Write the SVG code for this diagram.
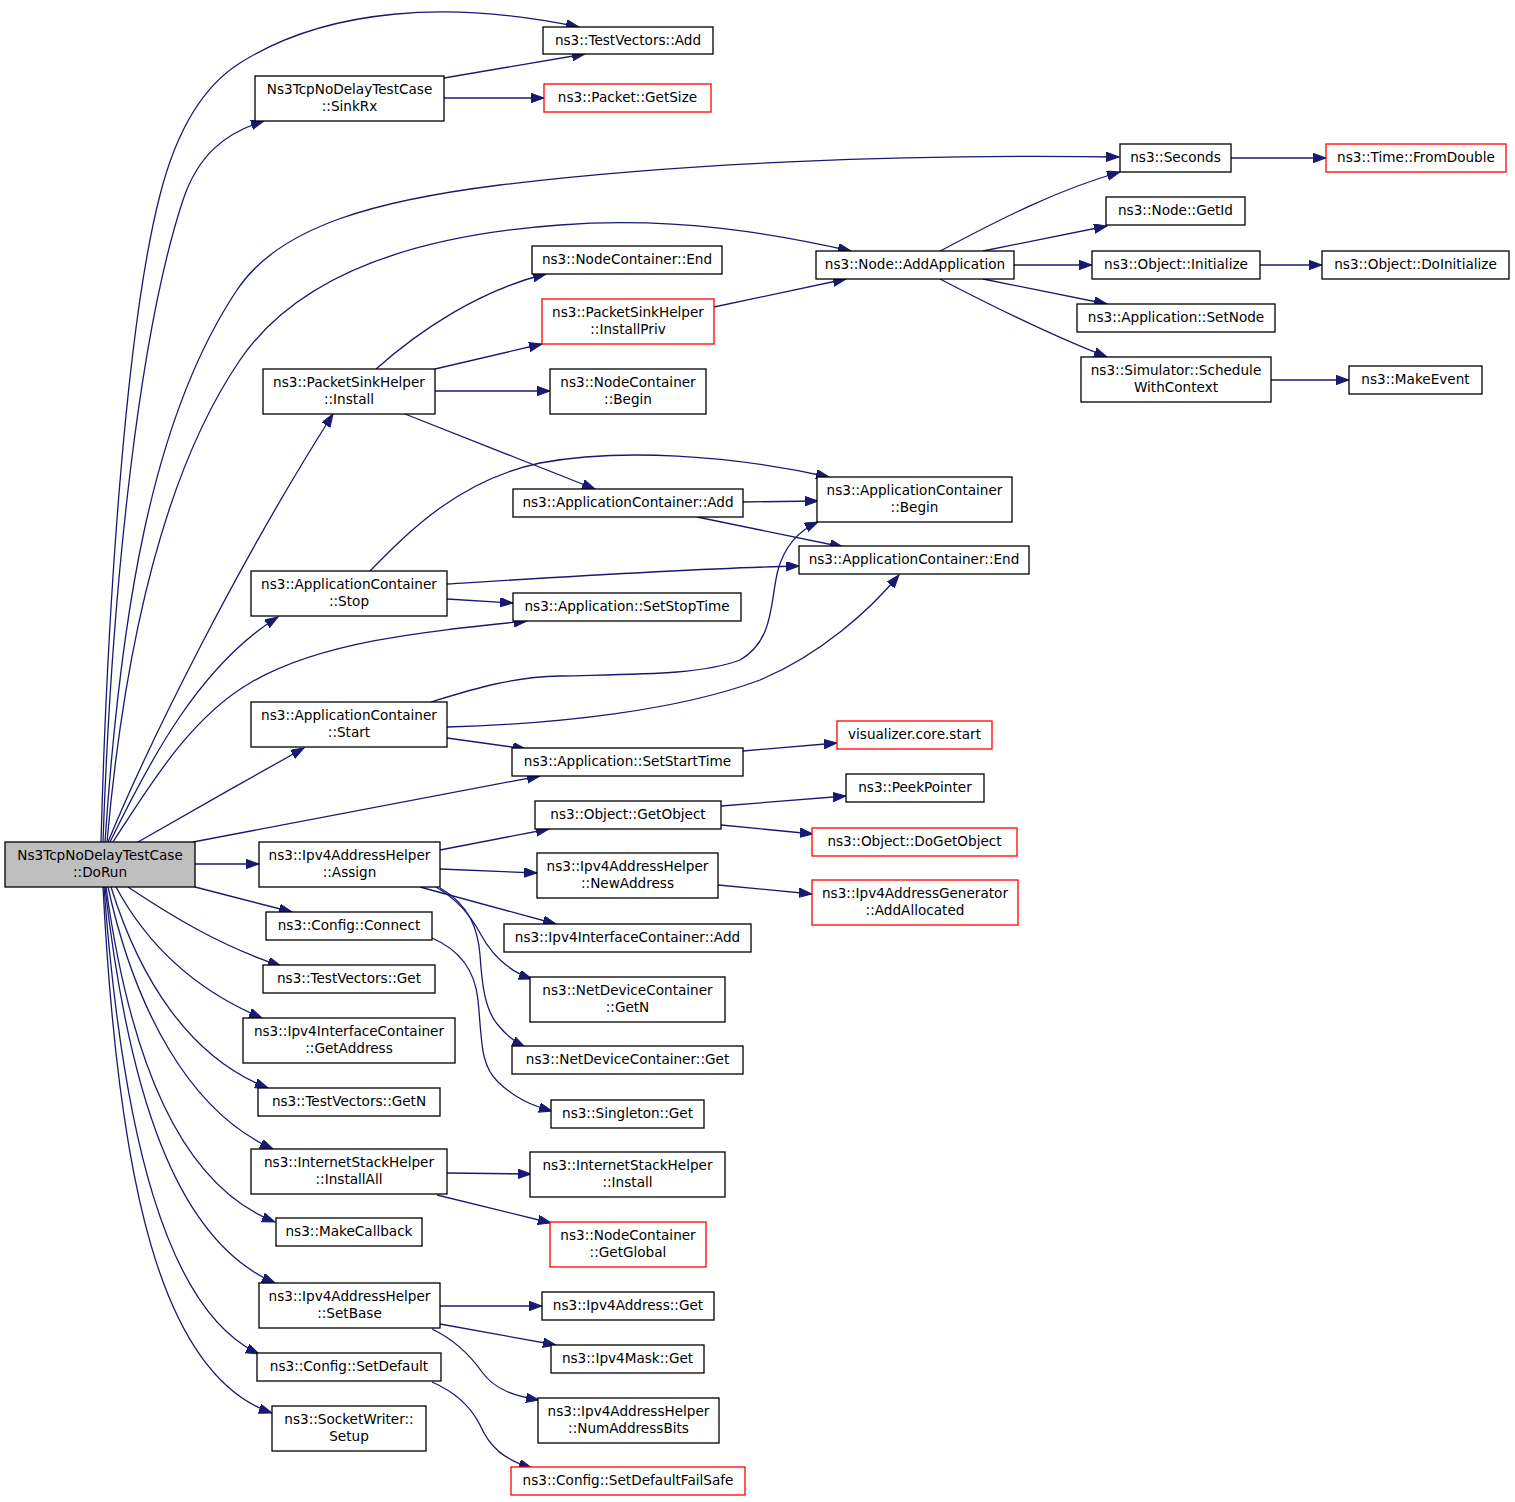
<svg xmlns="http://www.w3.org/2000/svg" width="1515" height="1502" viewBox="0 0 1515 1502">
<style>
.n rect{fill:#ffffff;stroke:#000000;stroke-width:1.3}
.r rect{stroke:#ff0000}
.g rect{fill:#bfbfbf}
text{font-family:"DejaVu Sans","Liberation Sans",sans-serif;font-size:13.6px;fill:#000000;text-anchor:middle}
#edges path{fill:none;stroke:#191970;stroke-width:1.3;marker-end:url(#ah)}
</style>
<defs>
<marker id="ah" markerUnits="userSpaceOnUse" markerWidth="14" markerHeight="10" refX="13" refY="4.7" orient="auto">
<path d="M0,0 L13,4.7 L0,9.4 z" fill="#191970" stroke="#191970" stroke-width="1"/>
</marker>
</defs>
<rect width="1515" height="1502" fill="#ffffff"/>
<g id="edges">
<path d="M101,842 C107,620 125,330 160,195 C177,128 205,85 240,63 C327,8 450,0 579,27"/>
<path d="M103,842 C112,580 140,330 183,200 C198,155 225,133 264,121"/>
<path d="M105,842 C120,620 150,420 237,290 C280,225 380,200 500,185 C680,163 900,154 1119,157"/>
<path d="M107,842 C125,640 165,470 240,360 C300,272 420,235 560,225 C679,216 780,235 851,251"/>
<path d="M108,842 C150,740 240,560 333,414"/>
<path d="M110,842 C150,760 200,665 278,617"/>
<path d="M113,842 C150,785 190,718 250,683 C320,642 420,632 527,621"/>
<path d="M138,842 C190,812 250,778 304,748"/>
<path d="M193,842 L540,776"/>
<path d="M195,864 L259,864"/>
<path d="M195,887 L292,912"/>
<path d="M128,887 C170,915 220,946 281,966"/>
<path d="M116,887 C150,950 200,992 262,1018"/>
<path d="M111,887 C140,980 190,1058 268,1088"/>
<path d="M108,887 C135,1010 190,1112 273,1149"/>
<path d="M106,887 C130,1060 180,1185 275,1222"/>
<path d="M105,887 C128,1090 175,1240 275,1283"/>
<path d="M104,887 C122,1130 165,1310 259,1354"/>
<path d="M103,887 C118,1180 160,1375 272,1413"/>
<path d="M444,78 L585,54"/>
<path d="M444,98 L544,98"/>
<path d="M1231,158 L1326,158"/>
<path d="M940,251 C990,225 1050,192 1120,172"/>
<path d="M983,251 L1107,226"/>
<path d="M1014,265 L1092,265"/>
<path d="M983,279 L1107,304"/>
<path d="M940,279 C990,305 1050,335 1107,357"/>
<path d="M1260,265 L1322,265"/>
<path d="M1271,380 L1349,380"/>
<path d="M376,369 C420,330 480,290 546,274"/>
<path d="M435,369 L542,344"/>
<path d="M435,391 L550,391"/>
<path d="M405,414 L595,489"/>
<path d="M714,307 L846,279"/>
<path d="M743,502 L818,501"/>
<path d="M697,517 L843,547"/>
<path d="M370,571 C410,530 460,480 540,463 C620,448 730,455 829,477"/>
<path d="M447,584 C560,577 700,568 799,566"/>
<path d="M447,599 L513,603"/>
<path d="M431,702 C470,690 510,677 560,676 C640,674 700,675 740,660 C775,640 770,600 778,570 C785,545 800,530 818,522"/>
<path d="M447,727 C560,724 680,710 760,680 C820,655 870,610 899,575"/>
<path d="M447,738 L526,749"/>
<path d="M743,751 L837,743"/>
<path d="M440,850 L549,829"/>
<path d="M440,869 L537,873"/>
<path d="M420,887 L556,924"/>
<path d="M436,887 C458,900 470,915 480,933 C490,952 505,970 532,979"/>
<path d="M440,888 C470,905 478,930 480,955 C482,985 485,1010 498,1025 C506,1035 515,1042 525,1047"/>
<path d="M432,938 C460,950 475,970 478,1000 C482,1040 480,1065 498,1082 C515,1098 530,1105 552,1111"/>
<path d="M721,806 L846,796"/>
<path d="M721,825 L813,834"/>
<path d="M718,885 L812,894"/>
<path d="M447,1173 L531,1174"/>
<path d="M437,1195 L551,1223"/>
<path d="M440,1306 L542,1306"/>
<path d="M440,1324 L556,1345"/>
<path d="M432,1329 C455,1340 470,1355 482,1372 C495,1390 515,1396 539,1400"/>
<path d="M432,1382 C455,1392 470,1405 480,1425 C490,1448 505,1460 532,1468"/>
</g>
<g id="n_DoRun" class="n g"><rect x="5" y="842" width="190" height="45"/><text x="100" y="860">Ns3TcpNoDelayTestCase</text><text x="100" y="877">::DoRun</text></g>
<g id="n_TVAdd" class="n"><rect x="543" y="27" width="170" height="27"/><text x="628" y="45">ns3::TestVectors::Add</text></g>
<g id="n_SinkRx" class="n"><rect x="255" y="76" width="189" height="45"/><text x="349.5" y="94">Ns3TcpNoDelayTestCase</text><text x="349.5" y="111">::SinkRx</text></g>
<g id="n_GetSize" class="n r"><rect x="544" y="84" width="167" height="28"/><text x="627.5" y="102">ns3::Packet::GetSize</text></g>
<g id="n_Seconds" class="n"><rect x="1120" y="144" width="111" height="28"/><text x="1175.5" y="162">ns3::Seconds</text></g>
<g id="n_FromDouble" class="n r"><rect x="1326" y="144" width="180" height="28"/><text x="1416" y="162">ns3::Time::FromDouble</text></g>
<g id="n_GetId" class="n"><rect x="1106" y="197" width="139" height="28"/><text x="1175.5" y="215">ns3::Node::GetId</text></g>
<g id="n_AddApplication" class="n"><rect x="816" y="251" width="198" height="28"/><text x="915" y="269">ns3::Node::AddApplication</text></g>
<g id="n_Initialize" class="n"><rect x="1092" y="251" width="168" height="28"/><text x="1176" y="269">ns3::Object::Initialize</text></g>
<g id="n_DoInitialize" class="n"><rect x="1322" y="251" width="187" height="28"/><text x="1415.5" y="269">ns3::Object::DoInitialize</text></g>
<g id="n_NCEnd" class="n"><rect x="532" y="246" width="190" height="28"/><text x="627" y="264">ns3::NodeContainer::End</text></g>
<g id="n_InstallPriv" class="n r"><rect x="542" y="299" width="172" height="45"/><text x="628" y="317">ns3::PacketSinkHelper</text><text x="628" y="334">::InstallPriv</text></g>
<g id="n_SetNode" class="n"><rect x="1077" y="304" width="198" height="28"/><text x="1176" y="322">ns3::Application::SetNode</text></g>
<g id="n_Schedule" class="n"><rect x="1081" y="357" width="190" height="45"/><text x="1176" y="375">ns3::Simulator::Schedule</text><text x="1176" y="392">WithContext</text></g>
<g id="n_MakeEvent" class="n"><rect x="1349" y="366" width="133" height="28"/><text x="1415.5" y="384">ns3::MakeEvent</text></g>
<g id="n_Install" class="n"><rect x="263" y="369" width="172" height="45"/><text x="349" y="387">ns3::PacketSinkHelper</text><text x="349" y="404">::Install</text></g>
<g id="n_NCBegin" class="n"><rect x="550" y="369" width="156" height="45"/><text x="628" y="387">ns3::NodeContainer</text><text x="628" y="404">::Begin</text></g>
<g id="n_ACAdd" class="n"><rect x="513" y="489" width="230" height="28"/><text x="628" y="507">ns3::ApplicationContainer::Add</text></g>
<g id="n_ACBegin" class="n"><rect x="817" y="477" width="195" height="45"/><text x="914.5" y="495">ns3::ApplicationContainer</text><text x="914.5" y="512">::Begin</text></g>
<g id="n_ACEnd" class="n"><rect x="799" y="546" width="230" height="28"/><text x="914" y="564">ns3::ApplicationContainer::End</text></g>
<g id="n_ACStop" class="n"><rect x="251" y="571" width="196" height="45"/><text x="349" y="589">ns3::ApplicationContainer</text><text x="349" y="606">::Stop</text></g>
<g id="n_SetStopTime" class="n"><rect x="513" y="593" width="228" height="28"/><text x="627" y="611">ns3::Application::SetStopTime</text></g>
<g id="n_ACStart" class="n"><rect x="251" y="702" width="196" height="45"/><text x="349" y="720">ns3::ApplicationContainer</text><text x="349" y="737">::Start</text></g>
<g id="n_visualizer" class="n r"><rect x="837" y="721" width="155" height="28"/><text x="914.5" y="739">visualizer.core.start</text></g>
<g id="n_SetStartTime" class="n"><rect x="512" y="748" width="231" height="28"/><text x="627.5" y="766">ns3::Application::SetStartTime</text></g>
<g id="n_PeekPointer" class="n"><rect x="846" y="774" width="138" height="28"/><text x="915" y="792">ns3::PeekPointer</text></g>
<g id="n_GetObject" class="n"><rect x="535" y="801" width="186" height="28"/><text x="628" y="819">ns3::Object::GetObject</text></g>
<g id="n_DoGetObject" class="n r"><rect x="812" y="828" width="205" height="28"/><text x="914.5" y="846">ns3::Object::DoGetObject</text></g>
<g id="n_Assign" class="n"><rect x="259" y="842" width="181" height="45"/><text x="349.5" y="860">ns3::Ipv4AddressHelper</text><text x="349.5" y="877">::Assign</text></g>
<g id="n_NewAddress" class="n"><rect x="537" y="853" width="181" height="45"/><text x="627.5" y="871">ns3::Ipv4AddressHelper</text><text x="627.5" y="888">::NewAddress</text></g>
<g id="n_AddAllocated" class="n r"><rect x="812" y="880" width="206" height="45"/><text x="915" y="898">ns3::Ipv4AddressGenerator</text><text x="915" y="915">::AddAllocated</text></g>
<g id="n_Connect" class="n"><rect x="266" y="912" width="166" height="28"/><text x="349" y="930">ns3::Config::Connect</text></g>
<g id="n_IICAdd" class="n"><rect x="504" y="924" width="247" height="28"/><text x="627.5" y="942">ns3::Ipv4InterfaceContainer::Add</text></g>
<g id="n_TVGet" class="n"><rect x="263" y="965" width="172" height="28"/><text x="349" y="983">ns3::TestVectors::Get</text></g>
<g id="n_GetN" class="n"><rect x="530" y="977" width="195" height="45"/><text x="627.5" y="995">ns3::NetDeviceContainer</text><text x="627.5" y="1012">::GetN</text></g>
<g id="n_GetAddress" class="n"><rect x="243" y="1018" width="212" height="45"/><text x="349" y="1036">ns3::Ipv4InterfaceContainer</text><text x="349" y="1053">::GetAddress</text></g>
<g id="n_NDCGet" class="n"><rect x="512" y="1046" width="231" height="28"/><text x="627.5" y="1064">ns3::NetDeviceContainer::Get</text></g>
<g id="n_TVGetN" class="n"><rect x="258" y="1088" width="182" height="28"/><text x="349" y="1106">ns3::TestVectors::GetN</text></g>
<g id="n_Singleton" class="n"><rect x="551" y="1100" width="153" height="28"/><text x="627.5" y="1118">ns3::Singleton::Get</text></g>
<g id="n_InstallAll" class="n"><rect x="251" y="1149" width="196" height="45"/><text x="349" y="1167">ns3::InternetStackHelper</text><text x="349" y="1184">::InstallAll</text></g>
<g id="n_ISHInstall" class="n"><rect x="530" y="1152" width="195" height="45"/><text x="627.5" y="1170">ns3::InternetStackHelper</text><text x="627.5" y="1187">::Install</text></g>
<g id="n_MakeCallback" class="n"><rect x="276" y="1218" width="146" height="28"/><text x="349" y="1236">ns3::MakeCallback</text></g>
<g id="n_GetGlobal" class="n r"><rect x="550" y="1222" width="156" height="45"/><text x="628" y="1240">ns3::NodeContainer</text><text x="628" y="1257">::GetGlobal</text></g>
<g id="n_SetBase" class="n"><rect x="259" y="1283" width="181" height="45"/><text x="349.5" y="1301">ns3::Ipv4AddressHelper</text><text x="349.5" y="1318">::SetBase</text></g>
<g id="n_Ipv4AddrGet" class="n"><rect x="542" y="1292" width="172" height="28"/><text x="628" y="1310">ns3::Ipv4Address::Get</text></g>
<g id="n_Ipv4MaskGet" class="n"><rect x="551" y="1345" width="153" height="28"/><text x="627.5" y="1363">ns3::Ipv4Mask::Get</text></g>
<g id="n_SetDefault" class="n"><rect x="257" y="1353" width="184" height="28"/><text x="349" y="1371">ns3::Config::SetDefault</text></g>
<g id="n_NumAddressBits" class="n"><rect x="538" y="1398" width="181" height="45"/><text x="628.5" y="1416">ns3::Ipv4AddressHelper</text><text x="628.5" y="1433">::NumAddressBits</text></g>
<g id="n_Setup" class="n"><rect x="272" y="1406" width="154" height="45"/><text x="349" y="1424">ns3::SocketWriter::</text><text x="349" y="1441">Setup</text></g>
<g id="n_FailSafe" class="n r"><rect x="511" y="1467" width="234" height="28"/><text x="628" y="1485">ns3::Config::SetDefaultFailSafe</text></g>
</svg>
